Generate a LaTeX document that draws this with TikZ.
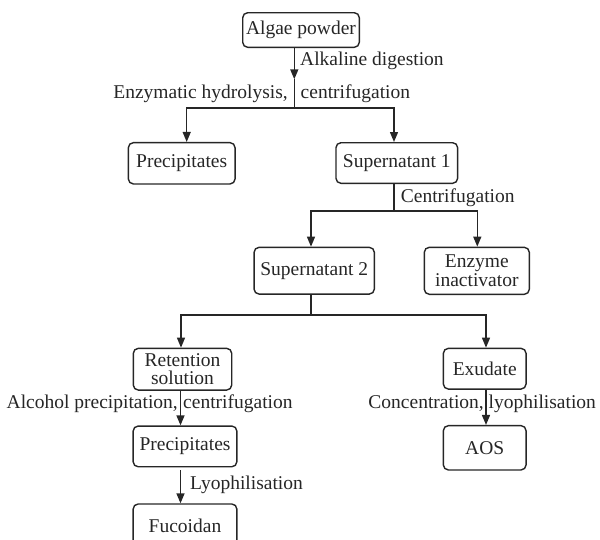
\documentclass[tikz,border=0pt]{standalone}
\usepackage{fontspec}
\setmainfont{Liberation Serif}
\usetikzlibrary{arrows.meta}
\definecolor{ink}{HTML}{262626}
\tikzset{
  txt/.style={text=ink, font=\fontsize{19.5}{18.5}\selectfont},
  box/.style={txt, draw=ink, line width=1.4pt, rounded corners=5pt, inner sep=0pt, align=center},
  lab/.style={txt, inner sep=0pt, text height=13pt, text depth=4pt},
  ln/.style={draw=ink, line width=1.4pt},
  arr/.style={ln, -{Triangle[length=10pt,width=8pt]}},
}
\begin{document}
\begin{tikzpicture}[x=1pt,y=-1pt]
\useasboundingbox (0,0) rectangle (600,539);
% nodes
\node[box, minimum width=116.6pt, minimum height=34.6pt] (algae) at (301,30) {Algae powder};
\node[box, minimum width=106.7pt, minimum height=41.3pt] (prec1) at (181.7,163.3) {Precipitates};
\node[box, minimum width=121.7pt, minimum height=40.6pt] (sup1) at (396.8,163) {Supernatant 1};
\node[box, minimum width=120.3pt, minimum height=46.7pt] (sup2) at (314.2,270.7) {Supernatant 2};
\node[box, minimum width=105pt, minimum height=47pt] (enz) at (476.8,270.8) {Enzyme\\inactivator};
\node[box, minimum width=98.4pt, minimum height=41.7pt] (ret) at (182.5,369.2) {Retention\\solution};
\node[box, minimum width=82.7pt, minimum height=40.7pt] (exu) at (484.7,368.7) {Exudate};
\node[box, minimum width=103.7pt, minimum height=40.7pt] (prec2) at (185,446.4) {Precipitates};
\node[box, minimum width=103.7pt, minimum height=44pt] (fuc) at (185,526) {Fucoidan};
\node[box, minimum width=82.7pt, minimum height=44.3pt] (aos) at (484.7,447.8) {AOS};
% routing coordinates
\coordinate (a1) at (294.3,79.3);
\coordinate (j1) at (294.3,108);
\coordinate (c1) at (186.7,108);
\coordinate (c2) at (394,108);
\coordinate (j2) at (394,211);
\coordinate (c3) at (311,211);
\coordinate (c4) at (477.3,211);
\coordinate (j3) at (311,315);
\coordinate (c5) at (181,315);
\coordinate (c6) at (486,315);
\coordinate (s1) at (180.5,470);
% connectors
\draw[arr] (algae.south -| a1) -- (a1);
\draw[ln] (a1) -- (j1);
\draw[arr] (j1) -- (c1) -- (c1 |- prec1.north);
\draw[arr] (j1) -- (c2) -- (c2 |- sup1.north);
\draw[ln] (sup1.south -| j2) -- (j2);
\draw[arr] (j2) -- (c3) -- (c3 |- sup2.north);
\draw[arr] (j2) -- (c4) -- (c4 |- enz.north);
\draw[ln] (sup2.south -| j3) -- (j3);
\draw[arr] (j3) -- (c5) -- (c5 |- ret.north);
\draw[arr] (j3) -- (c6) -- (c6 |- exu.north);
\draw[arr] (ret.south -| s1) -- (s1 |- prec2.north);
\draw[arr] (s1) -- (s1 |- fuc.north);
\draw[arr] (exu.south -| c6) -- (c6 |- aos.north);
% labels
\node[lab, anchor=west] (l1) at (300,61) {Alkaline digestion};
\node[lab, anchor=east] (l2) at (288,94) {Enzymatic hydrolysis,};
\node[lab, anchor=west] (l3) at (300.5,94) {centrifugation};
\node[lab, anchor=west] (l4) at (400.7,198.3) {Centrifugation};
\node[lab, anchor=east] (l5) at (178,403.5) {Alcohol precipitation,};
\node[lab, anchor=west] (l6) at (183,403.5) {centrifugation};
\node[lab, anchor=west] (l7) at (190,485) {Lyophilisation};
\node[lab, anchor=east] (l8) at (484,404) {Concentration,};
\node[lab, anchor=west] (l9) at (488.5,404) {lyophilisation};
\end{tikzpicture}
\end{document}
